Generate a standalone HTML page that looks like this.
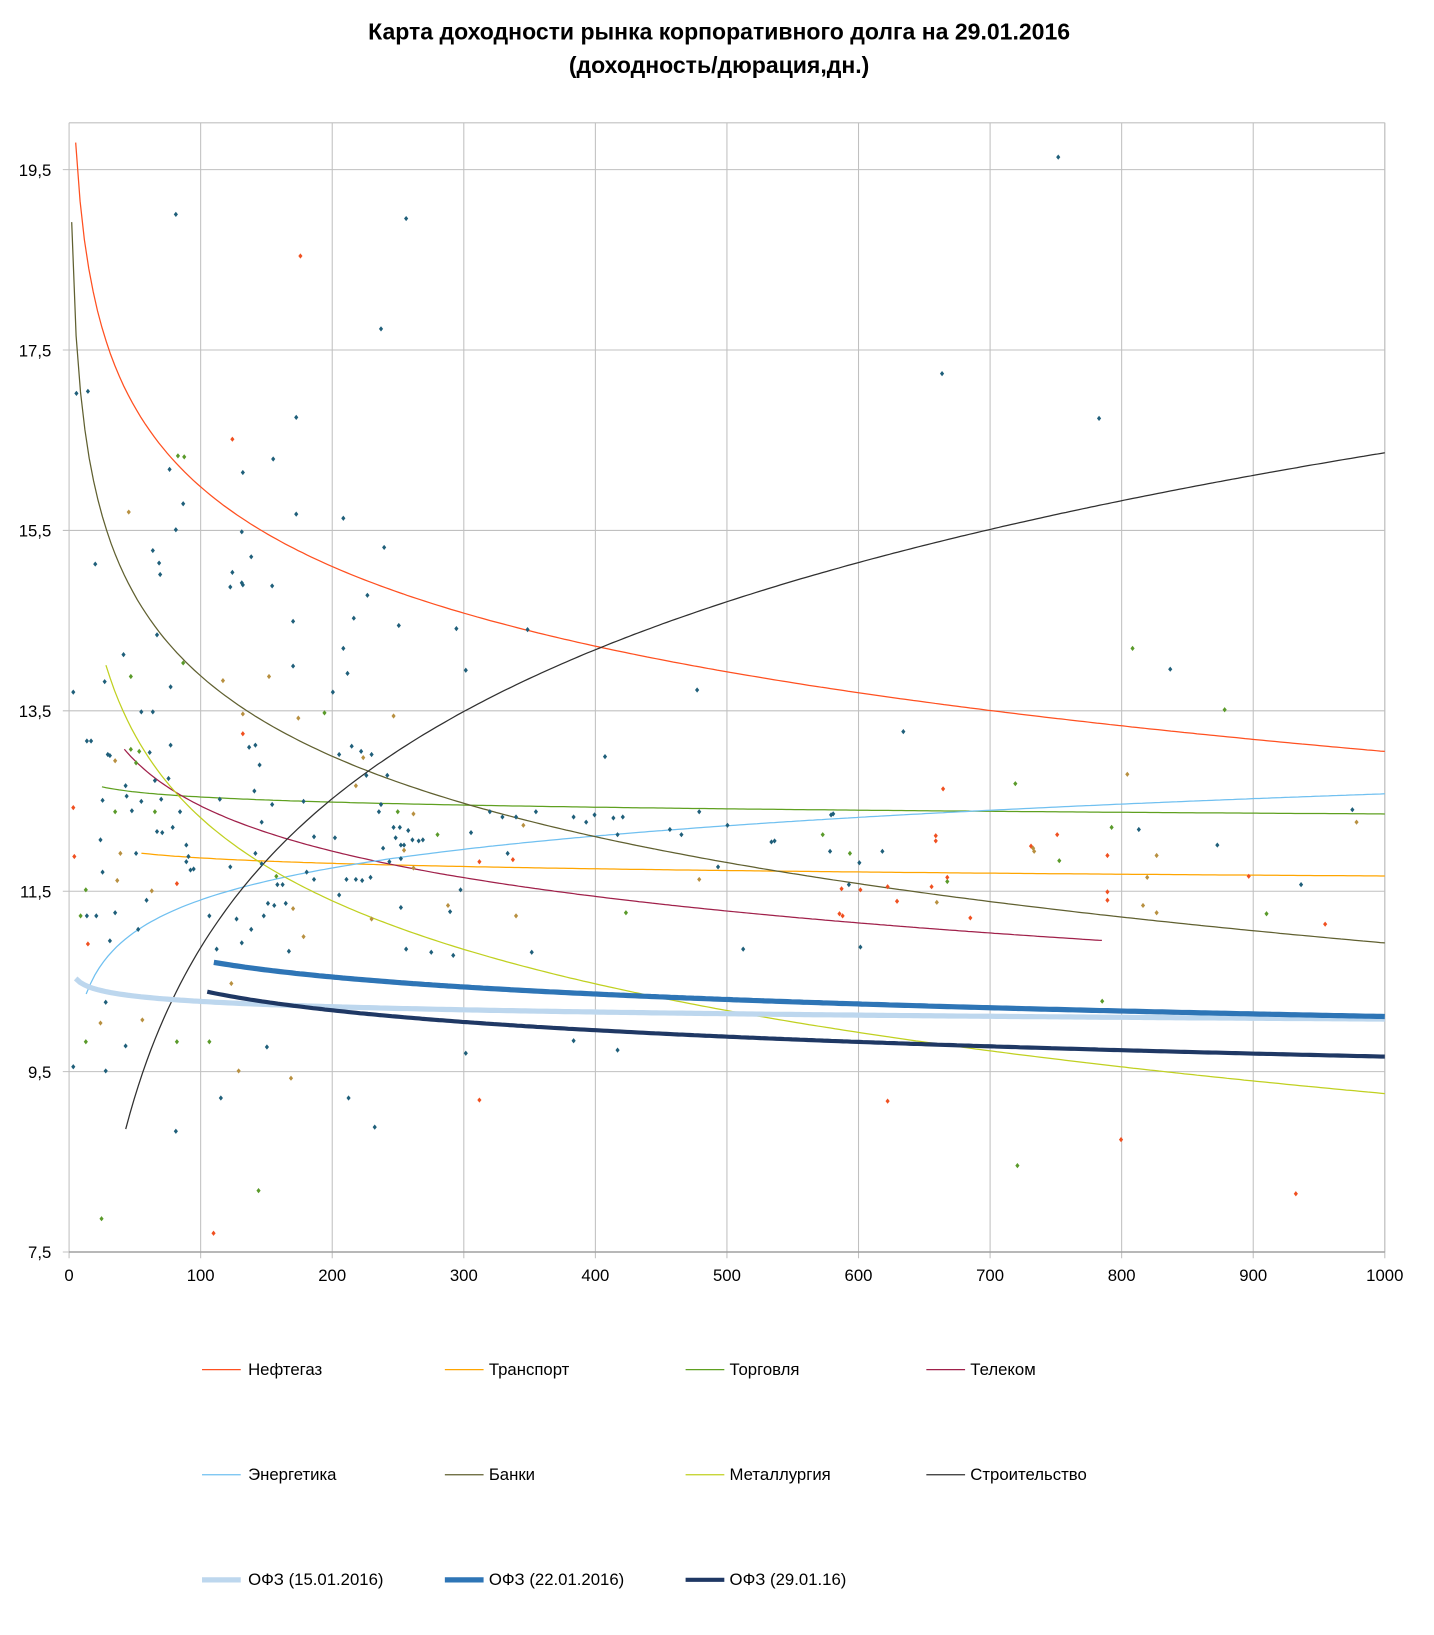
<!DOCTYPE html>
<html><head><meta charset="utf-8">
<style>
html,body{margin:0;padding:0;background:#fff;}
svg{display:block;}
text{font-family:"Liberation Sans",sans-serif;}
</style></head>
<body>
<svg id="c" width="1434" height="1635" viewBox="0 0 1370 1571" preserveAspectRatio="none" xmlns="http://www.w3.org/2000/svg">
<rect width="1370" height="1571" fill="#fff"/>
<text x="687" y="38" text-anchor="middle" font-size="22" font-weight="bold">Карта доходности рынка корпоративного долга на 29.01.2016</text>
<text x="687" y="70" text-anchor="middle" font-size="22" font-weight="bold">(доходность/дюрация,дн.)</text>
<g id="grid"></g>
<g id="curves"></g>
<g id="pts"></g>
<g id="legend" font-size="16">
<line x1="193" y1="1316" x2="230" y2="1316" stroke="#FF5020" stroke-width="1.2"/><text x="237" y="1321">Нефтегаз</text>
<line x1="425" y1="1316" x2="462" y2="1316" stroke="#FFA500" stroke-width="1.2"/><text x="467" y="1321">Транспорт</text>
<line x1="655" y1="1316" x2="692" y2="1316" stroke="#5FA020" stroke-width="1.2"/><text x="697" y="1321">Торговля</text>
<line x1="885" y1="1316" x2="922" y2="1316" stroke="#A0204A" stroke-width="1.2"/><text x="927" y="1321">Телеком</text>
<line x1="193" y1="1417" x2="230" y2="1417" stroke="#70C0F0" stroke-width="1.2"/><text x="237" y="1422">Энергетика</text>
<line x1="425" y1="1417" x2="462" y2="1417" stroke="#606030" stroke-width="1.2"/><text x="467" y="1422">Банки</text>
<line x1="655" y1="1417" x2="692" y2="1417" stroke="#C0D020" stroke-width="1.2"/><text x="697" y="1422">Металлургия</text>
<line x1="885" y1="1417" x2="922" y2="1417" stroke="#303030" stroke-width="1.2"/><text x="927" y="1422">Строительство</text>
<line x1="193" y1="1518" x2="230" y2="1518" stroke="#BDD7EE" stroke-width="5"/><text x="237" y="1523">ОФЗ (15.01.2016)</text>
<line x1="425" y1="1518" x2="462" y2="1518" stroke="#2E75B6" stroke-width="5"/><text x="467" y="1523">ОФЗ (22.01.2016)</text>
<line x1="655" y1="1518" x2="692" y2="1518" stroke="#1F3864" stroke-width="4"/><text x="697" y="1523">ОФЗ (29.01.16)</text>
</g>
</svg>
<script>
const NS="http://www.w3.org/2000/svg";
const X0=66,X1=1323,Y75=1203,PU=(1203-163)/12,TOP=118;
const X=v=>X0+(X1-X0)*v/1000, Y=v=>Y75-(v-7.5)*PU;
function el(p,tag,a,txt){const e=document.createElementNS(NS,tag);for(const k in a)e.setAttribute(k,a[k]);if(txt!==undefined)e.textContent=txt;p.appendChild(e);return e;}
const g=document.getElementById('grid');
for(let i=0;i<=10;i++){const x=X(i*100);el(g,'line',{x1:x,y1:TOP,x2:x,y2:Y75+6,stroke:'#c0c0c0','stroke-width':1});
 el(g,'text',{x:x,y:1231,'text-anchor':'middle','font-size':16},String(i*100));}
for(let v=7.5;v<=19.6;v+=2){const y=Y(v);el(g,'line',{x1:X0-6,y1:y,x2:X1,y2:y,stroke:'#c0c0c0','stroke-width':1});
 el(g,'text',{x:49,y:y+6,'text-anchor':'end','font-size':16},v.toFixed(1).replace('.',','));}
el(g,'line',{x1:X1,y1:TOP,x2:X1,y2:Y75,stroke:'#c0c0c0'});
el(g,'line',{x1:X0,y1:TOP,x2:X1,y2:TOP,stroke:'#c0c0c0'});
el(g,'line',{x1:X0,y1:Y75,x2:X1,y2:Y75,stroke:'#a0a0a0','stroke-width':1.5});
const cg=document.getElementById('curves');
function curve(a,b,x0,x1,col,w){let d='';for(let i=0;i<=300;i++){const x=x0+(x1-x0)*i/300;const y=a+b*Math.log(x);d+=(i?'L':'M')+X(x).toFixed(1)+' '+Y(y).toFixed(1);}
 el(cg,'path',{d:d,fill:'none',stroke:col,'stroke-width':w});}
curve(21.85,-1.274,5,1000,'#FF5020',1.2);
curve(12.27,-0.087,55,1000,'#FFA500',1.2);
curve(12.92,-0.0815,25,1000,'#5FA020',1.2);
curve(15.78,-0.724,42,785,'#A0204A',1.2);
curve(9.05,0.511,13,1000,'#70C0F0',1.2);
curve(19.81,-1.286,2,1000,'#606030',1.2);
curve(18.43,-1.328,28,1000,'#C0D020',1.2);
curve(-0.10,2.383,43,1000,'#303030',1.2);
curve(10.67,-0.085,5,1000,'#BDD7EE',5);
curve(11.99,-0.272,110,1000,'#2E75B6',5);
curve(11.87,-0.319,105,1000,'#1F3864',4);
const P={
'#1F5F7A':[[70,665],[73,378],[84,376],[91,542],[83,712],[100,655],[105,726],[118,629],[135,684],[146,684],[146,529],[152,541],[153,552],[150,610],[162,451],[168,509],[175,484],[163,660],[168,206],[232,454],[231,511],[240,535],[220,564],[222,550],[231,560],[232,562],[283,401],[283,494],[280,597],[280,640],[261,441],[260,563],[318,665],[328,498],[328,623],[332,647],[338,594],[351,572],[367,526],[388,210],[364,316],[381,601],[436,604],[445,644],[504,605],[666,663],[578,727],[863,703],[900,359],[1011,151],[1050,402],[1118,643],[1163,812],[1243,850],[1292,778],[1088,797],[796,782],[821,829],[822,910],[710,912],[737,809],[590,1009],[548,1000],[445,1012],[333,1055],[358,1083],[211,1055],[168,1087],[255,1006],[70,1025],[101,1029],[101,963],[105,904],[110,877],[120,1005],[92,880],[83,880],[130,820],[96,807],[98,769],[87,712],[98,838],[103,725],[154,768],[150,799],[182,836],[178,828],[180,823],[165,795],[161,748],[163,716],[143,723],[148,750],[155,800],[210,768],[220,833],[238,718],[244,716],[248,735],[243,760],[250,790],[260,773],[244,820],[250,830],[252,880],[256,868],[265,850],[273,868],[290,770],[293,838],[300,804],[320,805],[324,725],[336,717],[345,722],[350,745],[355,725],[340,845],[346,846],[354,843],[362,780],[364,773],[370,745],[376,795],[378,805],[382,795],[383,812],[386,812],[390,798],[394,807],[400,808],[404,807],[366,815],[372,828],[383,825],[383,872],[388,912],[412,915],[430,876],[433,918],[440,855],[450,800],[468,780],[480,785],[485,820],[493,785],[508,915],[512,780],[548,785],[560,790],[568,783],[586,786],[590,802],[595,785],[640,797],[651,802],[668,780],[695,793],[686,833],[740,808],[793,818],[794,783],[811,850],[843,818],[200,880],[207,912],[226,883],[231,906],[262,870],[276,914],[300,845],[324,860],[331,845],[270,850],[240,893],[172,780],[178,812],[185,835],[120,755],[121,765],[126,779],[135,770],[132,893],[140,865]],
'#5A9A2A':[[97,1171],[82,1001],[125,650],[170,438],[175,637],[176,439],[200,1001],[247,1144],[310,685],[264,842],[380,780],[418,802],[598,877],[786,802],[812,820],[905,847],[970,753],[972,1120],[1053,962],[1062,795],[1082,623],[1170,682],[1012,827],[1210,878],[125,720],[130,733],[133,722],[148,780],[110,780],[82,855],[77,880],[169,1001]],
'#F05020':[[71,823],[70,776],[84,907],[169,849],[204,1185],[222,422],[232,705],[287,246],[458,1057],[458,828],[848,1058],[901,758],[1071,1095],[1266,888],[1238,1147],[1058,822],[927,882],[857,866],[848,852],[890,852],[905,843],[894,808],[822,855],[804,854],[802,878],[805,880],[894,803],[1058,857],[1058,865],[1010,802],[985,813],[490,826],[1193,842]],
'#B89040':[[123,492],[213,654],[278,1036],[232,686],[285,690],[376,688],[136,980],[96,983],[115,820],[112,846],[110,731],[145,856],[228,1029],[221,945],[257,650],[355,883],[428,870],[493,880],[500,793],[395,834],[386,817],[395,782],[1077,744],[1296,790],[1105,877],[1092,870],[1105,822],[1096,843],[895,867],[987,815],[988,818],[668,845],[280,873],[290,900],[347,728],[340,755]]};
const pg=document.getElementById('pts');
for(const c in P)for(const [x,y] of P[c])el(pg,'path',{d:`M${x} ${y-2.5}L${x+2} ${y}L${x} ${y+2.5}L${x-2} ${y}Z`,fill:c});
</script>
</body></html>
